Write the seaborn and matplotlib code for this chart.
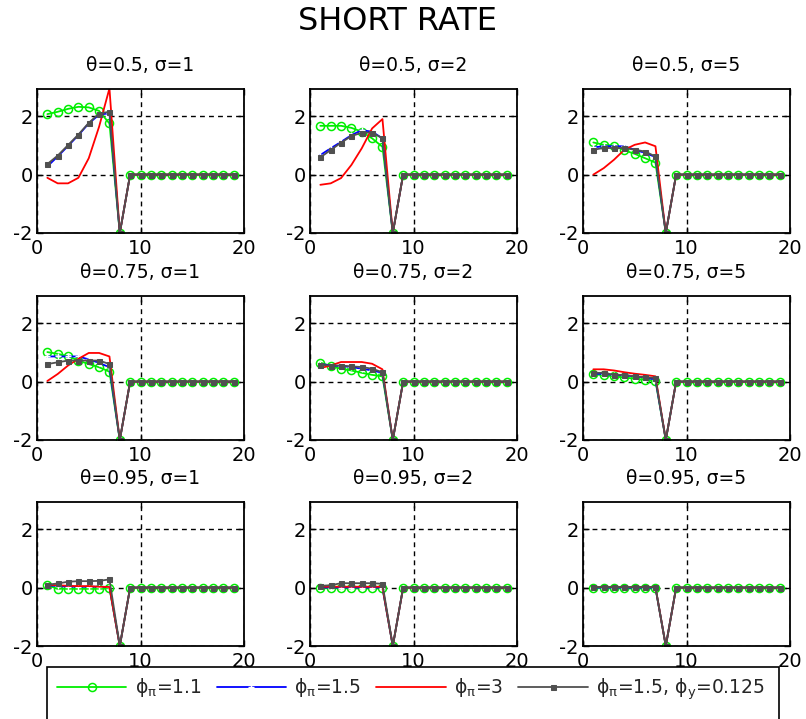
import matplotlib
matplotlib.use("Agg")
import matplotlib.pyplot as plt
from matplotlib.patches import Rectangle
import numpy as np
import pandas as pd
import seaborn as sns

sns.set_theme(style="white")
plt.rcParams["font.family"] = ["DejaVu Sans"]
plt.rcParams["mathtext.fontset"] = "custom"
plt.rcParams["mathtext.rm"] = "DejaVu Sans"
plt.rcParams["mathtext.it"] = "DejaVu Sans"

# ---------------- data ----------------
periods = list(range(1, 20))
tail = [-2, 0, 0, 0, 0, 0, 0, 0, 0, 0, 0, 0]   # periods 8..19

series_labels = [r"ϕ$_\pi$=1.1", r"ϕ$_\pi$=1.5", r"ϕ$_\pi$=3", r"ϕ$_\pi$=1.5, ϕ$_y$=0.125"]

panel_titles = [
    "θ=0.5, σ=1", "θ=0.5, σ=2", "θ=0.5, σ=5",
    "θ=0.75, σ=1", "θ=0.75, σ=2", "θ=0.75, σ=5",
    "θ=0.95, σ=1", "θ=0.95, σ=2", "θ=0.95, σ=5",
]

# first 7 periods for each series: phi_pi=1.1, phi_pi=1.5, phi_pi=3, phi_pi=1.5 & phi_y=0.125
p1_g = [2.07, 2.15, 2.25, 2.32, 2.30, 2.18, 1.75]
p1_b = [0.28, 0.62, 0.98, 1.35, 1.75, 2.05, 2.10]
p1_r = [-0.11, -0.30, -0.30, -0.11, 0.56, 1.64, 2.95]
p1_k = [0.36, 0.65, 1.01, 1.37, 1.77, 2.09, 2.15]

p2_g = [1.67, 1.67, 1.67, 1.60, 1.47, 1.24, 0.95]
p2_b = [0.67, 0.90, 1.12, 1.35, 1.52, 1.47, 1.24]
p2_r = [-0.35, -0.30, -0.12, 0.33, 0.90, 1.58, 1.90]
p2_k = [0.59, 0.84, 1.09, 1.32, 1.43, 1.44, 1.24]

p3_g = [1.10, 1.02, 0.99, 0.83, 0.71, 0.56, 0.41]
p3_b = [0.93, 0.97, 0.97, 0.97, 0.85, 0.74, 0.60]
p3_r = [0.00, 0.22, 0.51, 0.85, 1.02, 1.10, 0.97]
p3_k = [0.85, 0.91, 0.91, 0.91, 0.85, 0.79, 0.62]

p4_g = [1.01, 0.95, 0.87, 0.72, 0.60, 0.49, 0.34]
p4_b = [0.86, 0.86, 0.86, 0.86, 0.76, 0.64, 0.49]
p4_r = [0.02, 0.26, 0.55, 0.78, 0.98, 0.98, 0.86]
p4_k = [0.60, 0.66, 0.72, 0.72, 0.72, 0.72, 0.60]

p5_g = [0.65, 0.53, 0.44, 0.38, 0.30, 0.23, 0.18]
p5_b = [0.61, 0.55, 0.53, 0.50, 0.44, 0.38, 0.30]
p5_r = [0.46, 0.55, 0.67, 0.67, 0.67, 0.61, 0.42]
p5_k = [0.58, 0.55, 0.55, 0.52, 0.50, 0.44, 0.32]

p6_g = [0.25, 0.22, 0.18, 0.14, 0.10, 0.06, 0.03]
p6_b = [0.27, 0.26, 0.23, 0.21, 0.18, 0.14, 0.07]
p6_r = [0.42, 0.42, 0.38, 0.32, 0.27, 0.23, 0.18]
p6_k = [0.30, 0.30, 0.23, 0.23, 0.18, 0.15, 0.12]

p7_g = [0.08, -0.04, -0.04, -0.04, -0.04, -0.04, -0.02]
p7_b = [0.08, 0.05, 0.03, 0.03, 0.03, 0.03, 0.02]
p7_r = [0.10, 0.08, 0.06, 0.05, 0.05, 0.03, 0.02]
p7_k = [0.10, 0.14, 0.20, 0.22, 0.22, 0.23, 0.28]

p8_g = [-0.02, -0.02, -0.02, -0.02, -0.02, -0.02, -0.02]
p8_b = [0.00, 0.00, 0.00, 0.00, 0.00, 0.00, 0.00]
p8_r = [0.03, 0.03, 0.03, 0.03, 0.03, 0.03, 0.03]
p8_k = [0.06, 0.08, 0.15, 0.15, 0.15, 0.15, 0.13]

p9_g = [-0.01, -0.01, -0.01, -0.01, -0.01, -0.01, -0.01]
p9_b = [0.00, 0.00, 0.00, 0.00, 0.00, 0.00, 0.00]
p9_r = [0.02, 0.02, 0.02, 0.02, 0.02, 0.02, 0.02]
p9_k = [0.02, 0.02, 0.02, 0.02, 0.02, 0.02, 0.02]

panels = [
    (p1_g, p1_b, p1_r, p1_k), (p2_g, p2_b, p2_r, p2_k), (p3_g, p3_b, p3_r, p3_k),
    (p4_g, p4_b, p4_r, p4_k), (p5_g, p5_b, p5_r, p5_k), (p6_g, p6_b, p6_r, p6_k),
    (p7_g, p7_b, p7_r, p7_k), (p8_g, p8_b, p8_r, p8_k), (p9_g, p9_b, p9_r, p9_k),
]

# ---------------- styles ----------------
styles = [
    dict(color="#00ee00", lw=1.3, marker="o", markersize=5.8, markerfacecolor="none",
         markeredgecolor="#00ee00", markeredgewidth=1.1),
    dict(color="#0000ff", lw=1.3, marker="+", markersize=4.5, markeredgewidth=1.0),
    dict(color="#ff0000", lw=1.3),
    dict(color="#505050", lw=1.3, marker="s", markersize=3.6, markerfacecolor="#505050",
         markeredgecolor="#505050"),
]

W, H = 806, 719
fig = plt.figure(figsize=(W / 100, H / 100), dpi=100)
fig.patch.set_facecolor("white")

col_left = [37, 310, 583]
col_w = 207
row_top = [89, 296, 502]
row_h = 144

handles = None
for i, (title, series) in enumerate(zip(panel_titles, panels)):
    r, c = divmod(i, 3)
    ax = fig.add_axes([col_left[c] / W, 1 - (row_top[r] + row_h) / H, col_w / W, row_h / H])
    for vals, st, lab in zip(series, styles, series_labels):
        df = pd.DataFrame({"t": periods, "v": list(vals) + tail})
        sns.lineplot(data=df, x="t", y="v", ax=ax, label=lab, legend=False,
                     estimator=None, sort=False, **st)
    if ax.get_legend() is not None:
        ax.get_legend().remove()
    if handles is None:
        handles, _ = ax.get_legend_handles_labels()
        if not handles:
            handles = ax.get_lines()[:4]
    ax.set_xlim(0, 20)
    ax.set_ylim(-2, 2.93)
    ax.set_xticks([0, 10, 20])
    ax.set_yticks([-2, 0, 2])
    ax.set_xticklabels(["0", "10", "20"])
    ax.set_yticklabels(["-2", "0", "2"])
    ax.set_xlabel("")
    ax.set_ylabel("")
    ax.grid(True, color="black", linestyle=(0, (3.5, 3)), linewidth=1.0)
    ax.tick_params(axis="both", direction="in", length=4, width=1, colors="black",
                   labelsize=14, top=True, right=True, bottom=True, left=True)
    ax.tick_params(axis="x", pad=4)
    ax.tick_params(axis="y", pad=3)
    for sp in ax.spines.values():
        sp.set_visible(True)
        sp.set_color("black")
        sp.set_linewidth(1.3)
    ax.set_facecolor("white")
    ax.set_title(title, fontsize=13.5, pad=13, color="black")

fig.text(397 / W, 1 - 30 / H, "SHORT RATE", ha="center", va="baseline", fontsize=23, color="black")

# legend box (white, extends past the bottom edge)
fig.patches.append(Rectangle((47 / W, -0.05), (779 - 47) / W, (719 - 667) / H + 0.05,
                             transform=fig.transFigure, facecolor="white", edgecolor="black",
                             linewidth=1.2, zorder=4))
leg = fig.legend(handles, series_labels, ncol=4, loc="center left",
                 bbox_to_anchor=(57 / W, 1 - 689 / H), frameon=False, fontsize=13.5,
                 handlelength=3.7, handletextpad=0.45, columnspacing=0.8, borderpad=0,
                 borderaxespad=0)
leg.set_zorder(5)

fig.savefig("out.png", dpi=100, facecolor="white")
